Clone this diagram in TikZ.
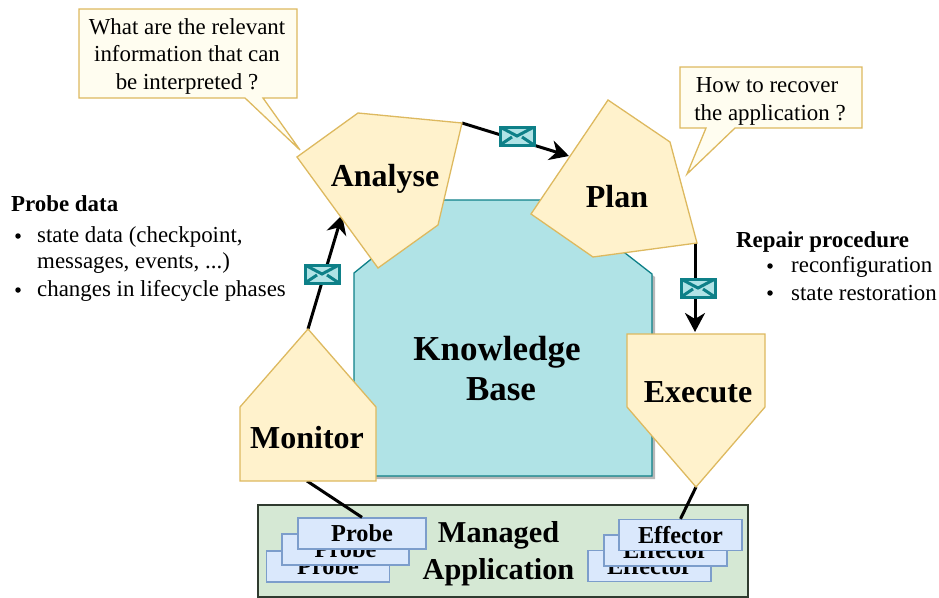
\documentclass[tikz,border=0pt]{standalone}
\usepackage{fontspec}
\setmainfont{Liberation Serif}
\usetikzlibrary{arrows.meta}
\definecolor{yelF}{HTML}{FFF2CC}
\definecolor{yelD}{HTML}{DDB95F}
\definecolor{noteF}{HTML}{FFFDF0}
\definecolor{tealF}{HTML}{B0E3E6}
\definecolor{tealD}{HTML}{0E8088}
\definecolor{blueF}{HTML}{DAE8FC}
\definecolor{blueD}{HTML}{7C9DCB}
\definecolor{greenF}{HTML}{D5E8D4}
\definecolor{greenD}{HTML}{2F3B2F}
\tikzset{
  phase/.style={draw=yelD,fill=yelF,line width=1.3pt,line join=miter},
  note/.style={draw=yelD,fill=noteF,line width=1.3pt},
  kb/.style={draw=tealD,fill=tealF,line width=1.3pt},
  shadowkb/.style={fill=black!28},
  lbl/.style={font=\fontsize{32}{38}\selectfont\bfseries,align=center,inner sep=0pt},
  txt/.style={font=\fontsize{22.9}{27.5}\selectfont,align=center,inner sep=0pt},
  head/.style={font=\fontsize{22.9}{27}\selectfont\bfseries,anchor=west,inner sep=0pt},
  item/.style={font=\fontsize{22.9}{27}\selectfont,anchor=west,inner sep=0pt},
  dot/.style={circle,fill=black,inner sep=0pt,minimum size=5.5pt},
  flow/.style={draw=black,line width=3pt,-{Stealth[length=19pt,width=20pt,inset=6pt]}},
  link/.style={draw=black,line width=3pt},
  probe/.style={draw=blueD,fill=blueF,line width=1.3pt,minimum height=31pt,inner sep=0pt,font=\fontsize{24.3}{28}\selectfont\bfseries},
  envelope/.style={draw=tealD,fill=tealF,line width=3pt,minimum width=34pt,minimum height=18pt,inner sep=0pt,
    path picture={\draw[tealD,line width=3pt]
      (path picture bounding box.north west)--(path picture bounding box.center)--(path picture bounding box.north east)
      (path picture bounding box.south west)--([xshift=-5pt,yshift=-1pt]path picture bounding box.center)
      (path picture bounding box.south east)--([xshift=5pt,yshift=-1pt]path picture bounding box.center);}},
  app/.style={draw=greenD,fill=greenF,line width=1.6pt,anchor=north west,inner sep=0pt}
}
\begin{document}
\begin{tikzpicture}[x=1pt,y=-1pt]
\useasboundingbox (0,0) rectangle (939,597);
% knowledge base
\fill[shadowkb] (448,204)--(560,204)--(655,277)--(655,479)--(357,479)--(357,277)--cycle;
\draw[kb] (444,200)--(557,200)--(652,274)--(652,476)--(354,476)--(354,273)--cycle;
\node[lbl,font=\fontsize{35}{40}\selectfont\bfseries] (kbl) at (497,369) {Knowledge\\\hspace*{8pt}Base};
% phase vertices
\coordinate (a1) at (358,113); \coordinate (a2) at (462,123); \coordinate (a3) at (438,225);
\coordinate (a4) at (378,268); \coordinate (a5) at (297,157);
\coordinate (p1) at (608,100); \coordinate (p2) at (670,142); \coordinate (p3) at (697,243);
\coordinate (p4) at (593,257); \coordinate (p5) at (531,214);
\coordinate (m1) at (308,329); \coordinate (m2) at (376,407); \coordinate (m3) at (376,481);
\coordinate (m4) at (240,481); \coordinate (m5) at (240,407);
\coordinate (e1) at (627,334); \coordinate (e2) at (765,334); \coordinate (e3) at (765,407);
\coordinate (e4) at (696,487); \coordinate (e5) at (627,407);
\coordinate (aIn) at (342,215); \coordinate (pIn) at (569,156); \coordinate (eIn) at (695,332);
\coordinate (mOut) at (307,481); \coordinate (pOut) at (695,243);
% application
\node[app,minimum width=490pt,minimum height=92pt] (ma) at (257,504) {};
\node[probe,minimum width=123pt] (pb3) at (328,566.5) {Probe};
\node[probe,minimum width=127pt] (pb2) at (345.5,549.5) {Probe};
\node[probe,minimum width=128pt] (pb1) at (362,533.5) {Probe};
\node[probe,minimum width=123pt] (ef3) at (649.5,566) {Effector};
\node[probe,minimum width=123pt] (ef2) at (665.5,550.5) {Effector};
\node[probe,minimum width=123pt] (ef1) at (680.5,535) {Effector};
\node[lbl,font=\fontsize{30.3}{37}\selectfont\bfseries] (mal) at (498.5,553.5) {Managed\\Application};
% connectors
\draw[link] (mOut)--(pb1.north);
\draw[link] (e4)--(ef1.north);
\draw[flow] (m1)--(aIn);
\draw[flow] (a2)--(pIn);
\draw[flow] (pOut)--(eIn);
% phases
\draw[phase] (a1)--(a2)--(a3)--(a4)--(a5)--cycle;
\draw[phase] (p1)--(p2)--(p3)--(p4)--(p5)--cycle;
\draw[phase] (m1)--(m2)--(m3)--(m4)--(m5)--cycle;
\draw[phase] (e1)--(e2)--(e3)--(e4)--(e5)--cycle;
\node[lbl] (al) at (385,179) {Analyse};
\node[lbl] (pl) at (617,197) {Plan};
\node[lbl] (ml) at (307,438) {Monitor};
\node[lbl] (el) at (698,392) {Execute};
% envelopes
\node[envelope] (env1) at (322,274) {};
\node[envelope] (env2) at (517,136) {};
\node[envelope] (env3) at (698,288) {};
% notes
\draw[note] (79,9)--(297,9)--(297,98)--(263,98)--(300,150)--(245,98)--(79,98)--cycle;
\draw[note] (680,67)--(862,67)--(862,128)--(735,128)--(687,174)--(706,128)--(680,128)--cycle;
\node[txt] (n1) at (187,56) {What are the relevant\\information that can\\be interpreted ?};
\node[txt] (n2) at (768.5,101.5) {\hspace*{-3pt}How to recover\\\hspace*{3pt}the application ?};
% side text
\node[head] (h1) at (11,203.5) {Probe data};
\node[dot] (d1) at (18,236) {};
\node[item] (i1) at (37,236.5) {state data (checkpoint,};
\node[item] (i2) at (37,263.5) {messages, events, ...)};
\node[dot] (d2) at (18,290) {};
\node[item] (i3) at (37,290.5) {changes in lifecycle phases};
\node[head] (h2) at (736,241.5) {Repair procedure};
\node[dot] (d3) at (770,266) {};
\node[item] (i4) at (791,266.5) {reconfiguration};
\node[dot] (d4) at (770,293) {};
\node[item] (i5) at (791,293) {state restoration};
\end{tikzpicture}
\end{document}
